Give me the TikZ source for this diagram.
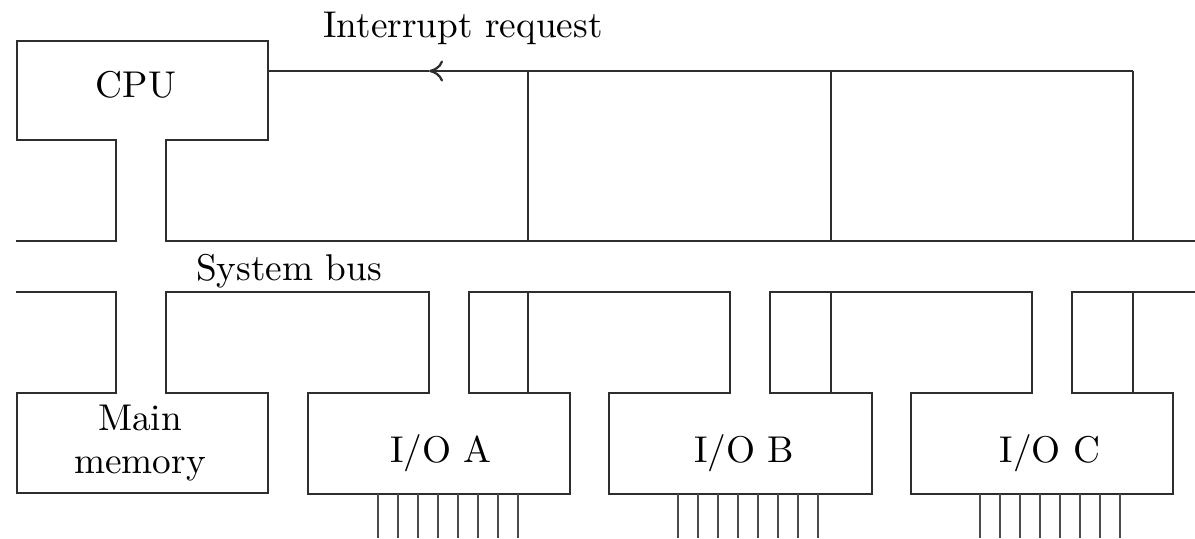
\documentclass[tikz,border=0pt]{standalone}
\usetikzlibrary{arrows.meta}

\tikzset{
  wire/.style={line width=0.65pt, draw=black!82, line join=miter},
  lbl/.style={font=\fontsize{10.6}{12.2}\selectfont, inner sep=0pt, align=center},
  pin/.style={line width=0.65pt, draw=black!70},
}

\begin{document}
\begin{tikzpicture}[x=0.01cm, y=-0.01cm]
  \useasboundingbox (0,0) rectangle (1195,538);

  % upper edge of the bus, with the CPU hanging from it
  \draw[wire] (16,241) -- (116,241) -- (116,140) -- (17,140) -- (17,41)
    -- (268,41) -- (268,140) -- (166,140) -- (166,241) -- (1195,241);

  % lower edge of the bus, with memory and the three I/O modules
  \draw[wire] (16,292) -- (116,292) -- (116,393) -- (17,393) -- (17,493)
    -- (268,493) -- (268,393) -- (166,393) -- (166,292)
    -- (429,292) -- (429,393) -- (308,393) -- (308,494) -- (570,494)
    -- (570,393) -- (469,393) -- (469,292)
    -- (730,292) -- (730,393) -- (609,393) -- (609,494) -- (872,494)
    -- (872,393) -- (770,393) -- (770,292)
    -- (1032,292) -- (1032,393) -- (911,393) -- (911,494) -- (1173,494)
    -- (1173,393) -- (1072,393) -- (1072,292) -- (1195,292);

  % labels
  \node[lbl, anchor=base] (cpu) at (136,97) {CPU};
  \node[lbl] (mem) at (140,443) {Main\\memory};
  \node[lbl, anchor=base] (ioa) at (441,462) {I/O A};
  \node[lbl, anchor=base] (iob) at (744,462) {I/O B};
  \node[lbl, anchor=base] (ioc) at (1050,462) {I/O C};
  \node[lbl, anchor=base] (bus) at (289,280) {System bus};
  \node[lbl, anchor=base] (irq) at (463,37) {Interrupt request};

  % interrupt request line and its taps
  \coordinate (cpuR) at (268,71);
  \coordinate (mid)  at (429,71);
  \coordinate (tapA) at (528,71);
  \coordinate (tapB) at (831,71);
  \coordinate (tapC) at (1133,71);
  \coordinate (busA) at (528,241);
  \coordinate (busB) at (831,241);
  \coordinate (busC) at (1133,241);
  \coordinate (lowA) at (528,292);
  \coordinate (lowB) at (831,292);
  \coordinate (lowC) at (1133,292);
  \coordinate (topA) at (528,393);
  \coordinate (topB) at (831,393);
  \coordinate (topC) at (1133,393);

  \draw[wire] (tapC) -- (tapA);
  \draw[wire, -{To[length=4pt, width=6pt]}] (tapA) -- (mid);
  \draw[wire] (mid) -- (cpuR);
  \draw[wire] (tapC) -- (busC);
  \draw[wire] (tapA) -- (busA);
  \draw[wire] (tapB) -- (busB);
  \draw[wire] (lowA) -- (topA);
  \draw[wire] (lowB) -- (topB);
  \draw[wire] (lowC) -- (topC);

  % external pins of each I/O module
  \foreach \x in {378,398,...,520} \draw[pin] (\x,494) -- (\x,538);
  \foreach \x in {678,698,...,820} \draw[pin] (\x,494) -- (\x,538);
  \foreach \x in {980,1000,...,1122} \draw[pin] (\x,494) -- (\x,538);
\end{tikzpicture}
\end{document}
